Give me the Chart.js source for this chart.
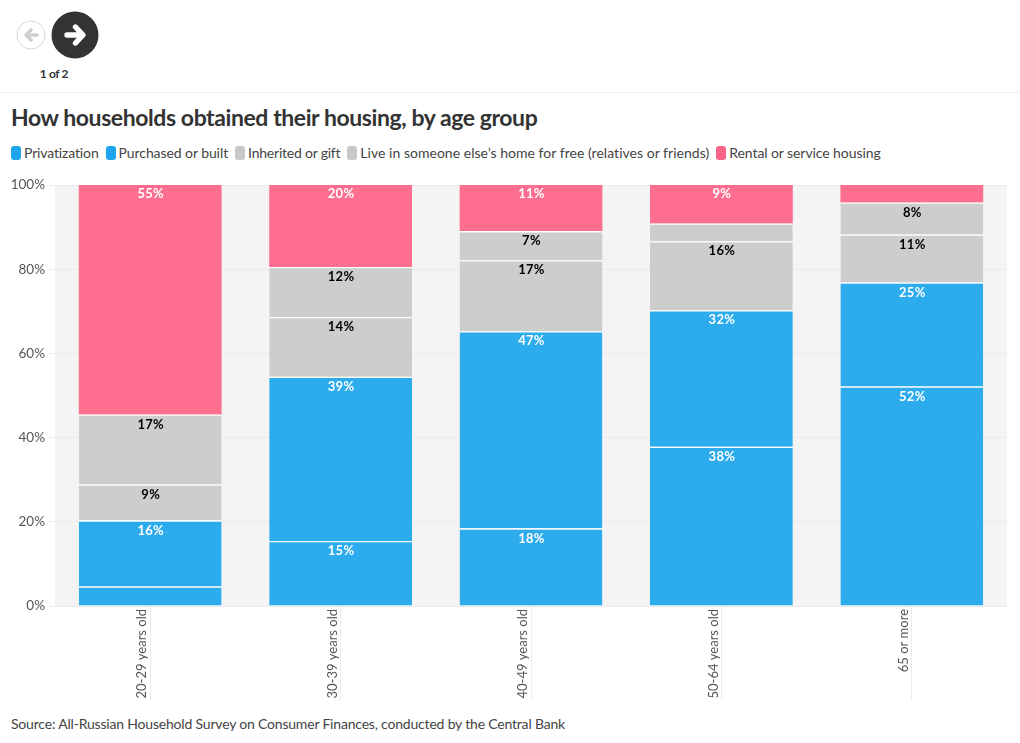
<!DOCTYPE html>
<html>
<head>
<meta charset="utf-8">
<title>How households obtained their housing, by age group</title>
<script src="https://cdn.jsdelivr.net/npm/chart.js@4"></script>
<style>
  html, body { margin: 0; padding: 0; background: #fff; }
  body { width: 1020px; height: 743px; position: relative; overflow: hidden; font-family: Lato, "Noto Sans", sans-serif; }
  #nav { position: absolute; left: 0; top: 0; width: 1020px; height: 92px; border-bottom: 1px solid #eeeeee; }
  #nav svg { position: absolute; left: 0; top: 0; }
  #page { position: absolute; left: 14px; top: 66px; width: 80px; text-align: center; font-size: 12px; font-weight: 700; letter-spacing: -0.35px; color: #333; }
  h1 { position: absolute; left: 11px; top: 102px; margin: 0; font-size: 23px; line-height: 30px; font-weight: 700; letter-spacing: -0.42px; color: #333; white-space: nowrap; }
  #legend { position: absolute; left: 11px; top: 144px; display: flex; font-size: 14px; line-height: 18px; color: #444; white-space: nowrap; }
  #legend span.item { display: flex; align-items: center; margin-right: 7px; letter-spacing: -0.14px; }
  #legend span.item:nth-child(2) { letter-spacing: -0.08px; }
  #legend span.item:nth-child(3) { letter-spacing: -0.22px; }
  #legend span.item:nth-child(4) { letter-spacing: 0.03px; }
  #legend span.item:nth-child(5) { letter-spacing: -0.08px; }
  #legend i { display: block; width: 10px; height: 14px; border-radius: 3px; margin-right: 3px; }
  #wrap { position: absolute; left: 0; top: 171px; }
  #source { position: absolute; left: 11px; top: 715px; font-size: 14px; line-height: 18px; letter-spacing: -0.19px; color: #444; white-space: nowrap; }
</style>
</head>
<body>
<div id="nav">
  <svg width="120" height="70" viewBox="0 0 120 70">
    <circle cx="31" cy="35" r="14" fill="#fff" stroke="#d8d8d8"/>
    <path d="M37 35H26.5M31 30L26 35L31 40" fill="none" stroke="#cfcfcf" stroke-width="3.6" stroke-linecap="round" stroke-linejoin="round"/>
    <circle cx="75" cy="35" r="23.5" fill="#333"/>
    <path d="M67 35H82M75.5 27L83 35L75.5 43" fill="none" stroke="#fff" stroke-width="5.4" stroke-linecap="round" stroke-linejoin="round"/>
  </svg>
  <div id="page">1 of 2</div>
</div>
<h1>How households obtained their housing, by age group</h1>
<div id="legend"></div>
<div id="wrap"><canvas id="chart" width="1020" height="535"></canvas></div>
<div id="source">Source: All-Russian Household Survey on Consumer Finances, conducted by the Central Bank</div>
<script>
const ageGroups = ['20-29 years old', '30-39 years old', '40-49 years old', '50-64 years old', '65 or more'];

const privatization = [4.65, 15.45, 18.45, 37.85, 52.15];
const purchased = [15.7, 39.0, 46.8, 32.4, 24.7];
const inherited = [8.5, 14.2, 16.9, 16.4, 11.4];
const liveFree = [16.65, 11.9, 6.9, 4.2, 7.6];
const rental = [54.5, 19.5, 10.95, 9.15, 4.15];

const yTicks = [0, 20, 40, 60, 80, 100];

const BLUE = '#2cabed';
const GREY = '#cdcdcd';
const PINK = '#fe6e8e';

function makeSet(label, data, color, swatch, textColor, topLine, labelDrop) {
    return {
        label: label,
        data: data,
        backgroundColor: color,
        swatch: swatch,
        textColor: textColor,
        labelDrop: labelDrop,
        borderColor: '#ffffff',
        borderWidth: { top: topLine },
        borderSkipped: false,
        stack: 'a',
        categoryPercentage: 0.75,
        barPercentage: 1
    };
}

const bandPlugin = {
    id: 'band',
    beforeDraw(chart) {
        const a = chart.chartArea;
        chart.ctx.save();
        chart.ctx.fillStyle = '#f4f4f4';
        chart.ctx.fillRect(a.left, a.top, a.right - a.left, a.bottom - a.top);
        chart.ctx.restore();
    }
};

// percent labels sit just inside the top of each segment
const labelPlugin = {
    id: 'segmentLabels',
    afterDatasetsDraw(chart) {
        const ctx = chart.ctx;
        ctx.save();
        ctx.font = '700 13px Lato';
        ctx.letterSpacing = '0.3px';
        ctx.textAlign = 'center';
        ctx.textBaseline = 'middle';
        chart.data.datasets.forEach((set, i) => {
            chart.getDatasetMeta(i).data.forEach((bar, j) => {
                const v = set.data[j];
                if (v < 6) return;
                ctx.fillStyle = set.textColor;
                ctx.fillText(Math.round(v) + '%', bar.x + 0.5, bar.y + set.labelDrop);
            });
        });
        ctx.restore();
    }
};

const chart = new Chart(document.getElementById('chart').getContext('2d'), {
    type: 'bar',
    data: {
        labels: ageGroups,
        datasets: [
            makeSet('Privatization', privatization, BLUE, '#1fa5ee', '#fff', 1.3, 10),
            makeSet('Purchased or built', purchased, BLUE, '#1fa5ee', '#fff', 1.3, 10),
            makeSet('Inherited or gift', inherited, GREY, '#c8c8c8', '#000', 1.3, 10),
            makeSet('Live in someone else\u2019s home for free (relatives or friends)', liveFree, GREY, '#c8c8c8', '#000', 1.3, 10),
            makeSet('Rental or service housing', rental, PINK, '#fb6388', '#fff', 0, 9)
        ]
    },
    options: {
        responsive: false,
        animation: false,
        layout: { padding: { top: 14, right: 13, left: 0, bottom: 0 } },
        plugins: { legend: { display: false }, tooltip: { enabled: false } },
        scales: {
            x: {
                stacked: true,
                border: { display: false },
                grid: { offset: false, drawOnChartArea: false, tickLength: 94, color: '#ececec' },
                ticks: {
                    color: '#555',
                    font: { family: 'Lato', size: 13 },
                    minRotation: 90,
                    maxRotation: 90,
                    padding: -91,
                    labelOffset: -8
                },
                afterFit(scale) { scale.height = 100; }
            },
            y: {
                stacked: true,
                min: 0,
                max: 100,
                border: { display: false },
                grid: { color: '#ebebeb', tickLength: 6 },
                afterBuildTicks(scale) { scale.ticks = yTicks.map(v => ({ value: v })); },
                ticks: {
                    color: '#555',
                    font: { family: 'Lato', size: 13.5 },
                    padding: 4,
                    callback: v => v + '%'
                },
                afterFit(scale) { scale.width = 55; }
            }
        }
    },
    plugins: [bandPlugin, labelPlugin]
});

const legendBox = document.getElementById('legend');
chart.data.datasets.forEach(set => {
    const item = document.createElement('span');
    item.className = 'item';
    const box = document.createElement('i');
    box.style.background = set.swatch;
    item.appendChild(box);
    item.appendChild(document.createTextNode(set.label));
    legendBox.appendChild(item);
});
</script>
</body>
</html>
